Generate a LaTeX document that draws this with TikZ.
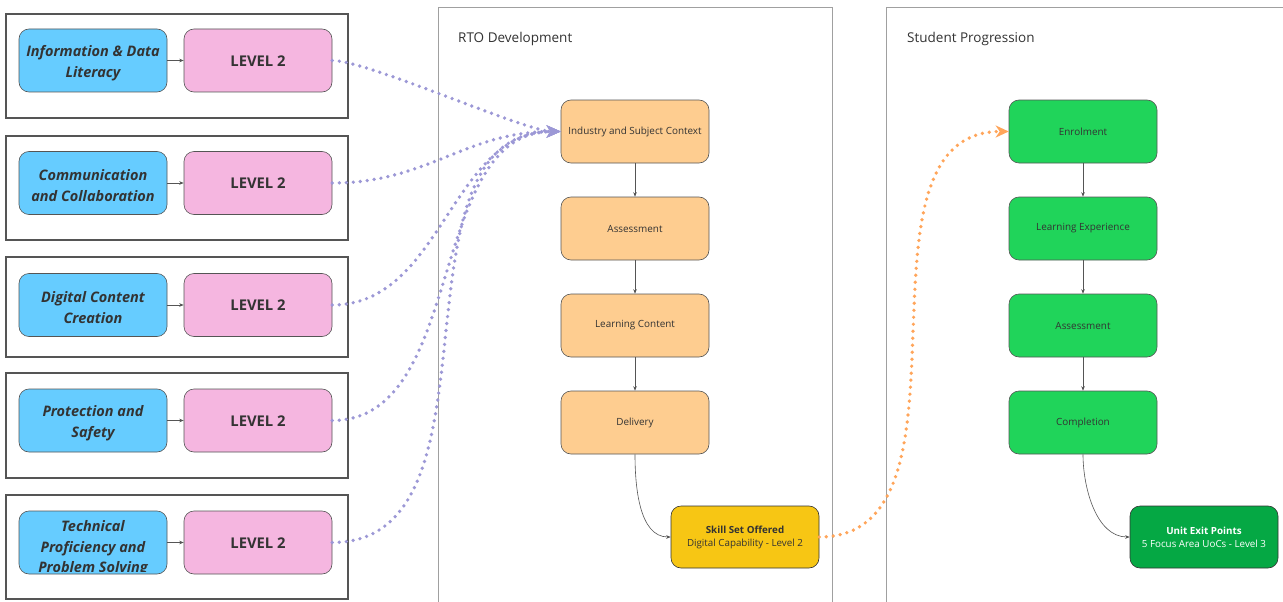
\documentclass[tikz,border=0pt]{standalone}
\usepackage{fontspec}
\setmainfont{Open Sans}
\usetikzlibrary{arrows.meta}
\definecolor{bluef}{HTML}{66CCFF}
\definecolor{pinkf}{HTML}{F5B6E0}
\definecolor{orangef}{HTML}{FECD90}
\definecolor{yellowf}{HTML}{F7C614}
\definecolor{greenf}{HTML}{20D45A}
\definecolor{dgreenf}{HTML}{05A844}
\definecolor{edge}{HTML}{555555}
\definecolor{panelc}{HTML}{A0A0A0}
\definecolor{purpc}{HTML}{9C98D6}
\definecolor{orc}{HTML}{FFA55A}
\definecolor{txt}{HTML}{333333}
\tikzset{
  frame/.style={draw=edge, line width=1.3pt, minimum width=342pt, inner sep=0pt},
  panel/.style={draw=panelc, line width=1pt},
  rbox/.style={draw=edge, line width=0.6pt, rounded corners=10pt, minimum width=148pt, minimum height=63pt, inner sep=2pt, align=center, text=txt},
  skillfont/.style={font=\fontsize{14.5}{20.5}\selectfont\bfseries\itshape},
  skill/.style={rbox, fill=bluef},
  skilltext/.style={skillfont, align=center, text=txt, inner sep=0pt},
  lvl/.style={rbox, fill=pinkf, font=\fontsize{14.8}{17}\selectfont\bfseries, text height=11.6pt, text depth=0pt},
  ostep/.style={rbox, fill=orangef, font=\fontsize{9.9}{12}\selectfont},
  gstep/.style={rbox, fill=greenf, font=\fontsize{9.9}{12}\selectfont},
  small/.style={draw=edge, line width=0.6pt, -{Stealth[length=4.5pt,width=3.5pt]}},
  purp/.style={draw=purpc, line width=3.7pt, line cap=round, dash pattern=on 0pt off 7pt, -{Stealth[length=14pt,width=12pt,inset=4pt]}},
  oran/.style={draw=orc, line width=3.7pt, line cap=round, dash pattern=on 0pt off 7pt, -{Stealth[length=13pt,width=12pt,inset=4pt]}},
  ttl/.style={font=\fontsize{13.5}{16}\selectfont, text=txt, anchor=west, inner sep=0pt}
}
\begin{document}
\begin{tikzpicture}[x=1pt,y=-1pt]
\useasboundingbox (0,0) rectangle (1283,602);
\clip (0,0) rectangle (1283,602);
\fill[white] (0,0) rectangle (1283,602);
% panels
\draw[panel] (438,640) -- (438,8) -- (832,8) -- (832,640);
\draw[panel] (886,640) -- (886,8) -- (1320,8);
\node[ttl] (t1) at (458,38.5) {RTO Development};
\node[ttl] (t2) at (907,39) {Student Progression};
% left frames
\node[frame, minimum height=104pt] (f1) at (177,66) {};
\node[frame, minimum height=104pt] (f2) at (177,188) {};
\node[frame, minimum height=100pt] (f3) at (177,307) {};
\node[frame, minimum height=105pt] (f4) at (177,425.5) {};
\node[frame, minimum height=104pt] (f5) at (177,547) {};
% skill nodes
\node[skill] (b1) at (93,60.5) {};
\node[skilltext] (b1t) at ([yshift=-2.5pt]b1.center) {Information \& Data\\Literacy};
\node[lvl] (p1) at (258,60.5) {LEVEL 2};
\node[skill] (b2) at (93,183) {};
\node[skilltext] (b2t) at ([yshift=-2.5pt]b2.center) {Communication\\and Collaboration};
\node[lvl] (p2) at (258,183) {LEVEL 2};
\node[skill] (b3) at (93,305) {};
\node[skilltext] (b3t) at ([yshift=-2.5pt]b3.center) {Digital Content\\Creation};
\node[lvl] (p3) at (258,305) {LEVEL 2};
\node[skill] (b4) at (93,420.5) {};
\node[skilltext] (b4t) at ([yshift=-2.5pt]b4.center) {Protection and\\Safety};
\node[lvl] (p4) at (258,420.5) {LEVEL 2};
\node[skill] (b5) at (93,542.5) {};
\begin{scope}
\clip[rounded corners=8pt] ([yshift=2.5pt]b5.south west) rectangle (b5.north east);
\node[skilltext] (b5t) at ([yshift=-6pt]b5.center) {Technical\\Proficiency and\\Problem Solving};
\end{scope}
\node[lvl] (p5) at (258,542.5) {LEVEL 2};
\foreach \i in {1,...,5} \draw[small] (b\i) -- (p\i);
% RTO column
\node[ostep] (o1) at (635,131.5) {Industry and Subject Context};
\node[ostep] (o2) at (635,228.5) {Assessment};
\node[ostep] (o3) at (635,325.5) {Learning Content};
\node[ostep] (o4) at (635,422.5) {Delivery};
\node[rbox, fill=yellowf, draw=black!80, minimum height=62pt, font=\fontsize{9.8}{13}\selectfont] (ss) at (745,537) {\textbf{Skill Set Offered}\\Digital Capability - Level 2};
\draw[small] (o1) -- (o2);
\draw[small] (o2) -- (o3);
\draw[small] (o3) -- (o4);
\draw[small] (o4.south) to[out=-90,in=180,looseness=0.9] (ss.west);
% Student column
\node[gstep] (g1) at (1083,131.5) {Enrolment};
\node[gstep] (g2) at (1083,228.5) {Learning Experience};
\node[gstep] (g3) at (1083,325.5) {Assessment};
\node[gstep] (g4) at (1083,422.5) {Completion};
\node[rbox, fill=dgreenf, draw=black!80, text=white, minimum height=62pt, font=\fontsize{9.8}{13}\selectfont] (ue) at (1204,537) {\textbf{Unit Exit Points}\\5 Focus Area UoCs - Level 3};
\draw[small] (g1) -- (g2);
\draw[small] (g2) -- (g3);
\draw[small] (g3) -- (g4);
\draw[small] (g4.south) to[out=-90,in=180,looseness=0.9] (ue.west);
% dotted connectors
\draw[purp] (p1.east) .. controls +(35,0) and +(-35,0) .. (o1.west);
\draw[purp] (p2.east) .. controls +(95,0) and +(-95,0) .. (o1.west);
\draw[purp] (p3.east) .. controls +(110,0) and +(-110,0) .. (o1.west);
\draw[purp] (p4.east) .. controls +(135,0) and +(-135,0) .. (o1.west);
\draw[purp] (p5.east) .. controls +(180,0) and +(-180,0) .. (o1.west);
\draw[oran] (ss.east) .. controls +(170,0) and +(-170,0) .. (g1.west);
\end{tikzpicture}
\end{document}
